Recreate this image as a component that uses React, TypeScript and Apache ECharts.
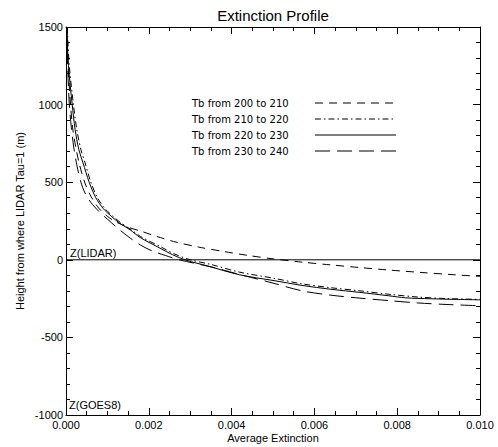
import React, { useEffect, useRef } from "react";
import * as echarts from "echarts";

// ---- data ----
const seriesNames = [
  "Tb from 200 to 210",
  "Tb from 210 to 220",
  "Tb from 220 to 230",
  "Tb from 230 to 240",
];

const ext200 = [0.00002, 0.00005, 0.00011, 0.00016, 0.00024, 0.00032, 0.00045, 0.0006, 0.0008, 0.001, 0.0012, 0.0015, 0.0018, 0.0022, 0.0026, 0.0032, 0.0038, 0.0044, 0.005, 0.0057, 0.0064, 0.0071, 0.0078, 0.0086, 0.0093, 0.010];
const h200 = [1500, 1250, 1000, 850, 720, 620, 500, 410, 330, 280, 245, 210, 185, 150, 118, 82, 54, 28, 6, -15, -33, -50, -66, -82, -95, -107];

const ext210 = [0.00003, 0.00008, 0.00018, 0.00026, 0.00036, 0.00046, 0.0006, 0.00076, 0.00094, 0.00115, 0.00134, 0.00158, 0.0018, 0.0023, 0.0026, 0.003, 0.0035, 0.0042, 0.005, 0.0057, 0.0064, 0.0071, 0.0078, 0.0085, 0.0092, 0.010];
const h210 = [1500, 1250, 1000, 840, 710, 625, 500, 400, 330, 277, 235, 193, 150, 82, 40, 0, -30, -80, -118, -155, -180, -200, -222, -240, -250, -255];

const ext220 = [0.00002, 0.00006, 0.00015, 0.00022, 0.00031, 0.00041, 0.00056, 0.00072, 0.0009, 0.00111, 0.0013, 0.00155, 0.00179, 0.00227, 0.00258, 0.00292, 0.00341, 0.0042, 0.005, 0.0057, 0.0064, 0.0071, 0.0078, 0.0082, 0.0088, 0.0094, 0.010];
const h220 = [1500, 1250, 1000, 840, 710, 625, 500, 400, 330, 277, 235, 193, 144, 75, 32, -4, -39, -97, -133, -165, -190, -210, -232, -245, -251, -255, -258];

const ext230 = [0.00002, 0.00004, 0.00008, 0.00013, 0.00019, 0.00027, 0.00036, 0.00046, 0.0006, 0.0008, 0.001, 0.0012, 0.0015, 0.0018, 0.0021, 0.0024, 0.0027, 0.0031, 0.0036, 0.0042, 0.005, 0.0057, 0.0064, 0.0071, 0.0078, 0.0085, 0.0092, 0.010];
const h230 = [1500, 1250, 1000, 850, 720, 600, 500, 430, 370, 310, 262, 215, 150, 95, 55, 28, 2, -22, -52, -95, -150, -200, -228, -247, -263, -278, -288, -296];

const zLidarExt = [0, 0.010];
const zLidarH = [0, 0];

const xTickLabels = ["0.000", "0.002", "0.004", "0.006", "0.008", "0.010"];
const yTickLabels = ["-1000", "-500", "0", "500", "1000", "1500"];

const dashStyles: number[][] = [
  [8, 6],
  [6, 3, 1.5, 3],
  [],
  [15, 7],
];

const FONT = "Liberation Sans, Arial, Helvetica, sans-serif";

function zip(xs: number[], ys: number[]) {
  return xs.map((x, i) => [x, ys[i]]);
}

export default function App() {
  const ref = useRef<HTMLDivElement>(null);

  useEffect(() => {
    if (!ref.current) return;
    const chart = echarts.init(ref.current, undefined, { renderer: "svg" });

    const exts = [ext200, ext210, ext220, ext230];
    const hs = [h200, h210, h220, h230];

    const left = 66, right = 18, top = 27, bottom = 32;
    const W = 498, H = 447;

    const axisCommon = {
      axisLine: { show: true, onZero: false, lineStyle: { color: "#000", width: 1 } },
      splitLine: { show: false },
      minorSplitLine: { show: false },
    };

    const xCommon = {
      type: "value" as const,
      min: 0,
      max: 0.01,
      interval: 0.002,
      ...axisCommon,
      axisTick: { show: true, inside: true, length: 7, lineStyle: { color: "#000" } },
      minorTick: { show: true, splitNumber: 4, length: 4, lineStyle: { color: "#000" } },
    };
    const yCommon = {
      type: "value" as const,
      min: -1000,
      max: 1500,
      interval: 500,
      ...axisCommon,
      axisTick: { show: true, inside: true, length: 7, lineStyle: { color: "#000" } },
      minorTick: { show: true, splitNumber: 5, length: 4, lineStyle: { color: "#000" } },
    };

    const legendRows = [103, 119, 135, 151];
    const legendGraphics: any[] = [];
    seriesNames.forEach((name, i) => {
      legendGraphics.push({
        type: "text",
        x: 192,
        y: legendRows[i],
        style: {
          text: name,
          fontFamily: "DejaVu Sans, sans-serif",
          fontSize: 10,
          fill: "#000",
          verticalAlign: "middle",
          align: "left",
        },
      });
      legendGraphics.push({
        type: "line",
        shape: { x1: 315, y1: legendRows[i], x2: 396, y2: legendRows[i] },
        style: {
          stroke: "#000",
          lineWidth: 1,
          lineDash: dashStyles[i].length ? dashStyles[i] : null,
        },
      });
    });

    chart.setOption({
      animation: false,
      backgroundColor: "#fff",
      grid: { left, right, top, bottom, outerBoundsMode: "none", containLabel: false },
      xAxis: [
        {
          ...xCommon,
          position: "bottom",
          axisLabel: {
            show: true,
            color: "#000",
            fontSize: 11,
            fontFamily: FONT,
            margin: 4,
            formatter: (v: number) => xTickLabels[Math.round(v / 0.002)] ?? v.toFixed(3),
          },
        },
        { ...xCommon, position: "top", axisLabel: { show: false } },
      ],
      yAxis: [
        {
          ...yCommon,
          position: "left",
          axisLabel: {
            show: true,
            color: "#000",
            fontSize: 11,
            fontFamily: FONT,
            margin: 3,
            formatter: (v: number) => yTickLabels[Math.round((v + 1000) / 500)] ?? String(v),
          },
        },
        { ...yCommon, position: "right", axisLabel: { show: false } },
      ],
      series: [
        ...seriesNames.map((name, i) => ({
          name,
          type: "line",
          xAxisIndex: 0,
          yAxisIndex: 0,
          data: zip(exts[i], hs[i]),
          showSymbol: false,
          smooth: 0.3,
          lineStyle: {
            color: "#000",
            width: 1,
            type: dashStyles[i].length ? dashStyles[i] : "solid",
          },
          silent: true,
        })),
        {
          name: "Z(LIDAR)",
          type: "line",
          xAxisIndex: 0,
          yAxisIndex: 0,
          data: zip(zLidarExt, zLidarH),
          showSymbol: false,
          lineStyle: { color: "#000", width: 1, type: "solid" },
          silent: true,
        },
      ],
      graphic: [
        {
          type: "text",
          x: (left + (W - right)) / 2,
          y: 15,
          style: {
            text: "Extinction Profile",
            fontFamily: FONT,
            fontSize: 15,
            fill: "#000",
            align: "center",
            verticalAlign: "middle",
          },
        },
        {
          type: "text",
          x: (left + (W - right)) / 2,
          y: 438,
          style: {
            text: "Average Extinction",
            fontFamily: FONT,
            fontSize: 11,
            fill: "#000",
            align: "center",
            verticalAlign: "middle",
          },
        },
        {
          type: "text",
          x: 20,
          y: (top + (H - bottom)) / 2,
          rotation: Math.PI / 2,
          style: {
            text: "Height from where LIDAR Tau=1 (m)",
            fontFamily: FONT,
            fontSize: 11,
            fill: "#000",
            align: "center",
            verticalAlign: "middle",
          },
        },
        {
          type: "text",
          x: 70,
          y: 253,
          style: {
            text: "Z(LIDAR)",
            fontFamily: FONT,
            fontSize: 11,
            fill: "#000",
            align: "left",
            verticalAlign: "middle",
          },
        },
        {
          type: "text",
          x: 69,
          y: 405,
          style: {
            text: "Z(GOES8)",
            fontFamily: FONT,
            fontSize: 11,
            fill: "#000",
            align: "left",
            verticalAlign: "middle",
          },
        },
        ...legendGraphics,
      ],
    });

    return () => chart.dispose();
  }, []);

  return (
    <div
      ref={ref}
      style={{ position: "fixed", left: 0, top: 0, width: 498, height: 447, background: "#fff" }}
    />
  );
}
